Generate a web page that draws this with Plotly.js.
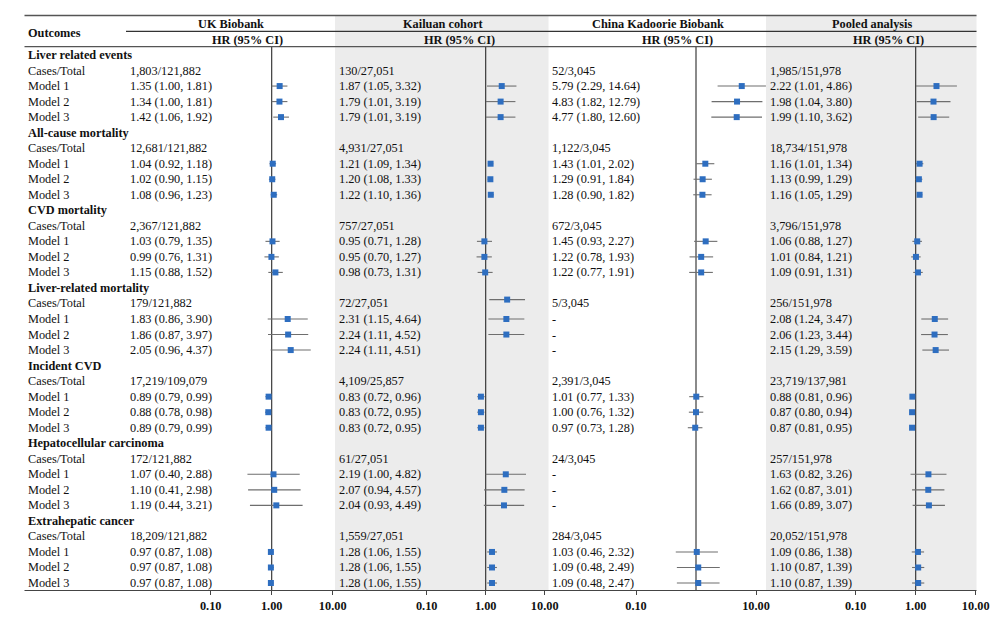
<!DOCTYPE html>
<html><head><meta charset="utf-8">
<script src="https://cdn.plot.ly/plotly-3.0.1.min.js"></script>
<style>html,body{margin:0;padding:0;background:#fff}</style>
</head><body><div id="chart" style="width:1000px;height:618px"></div>
<script>
// ---------------- DATA ----------------
const outcomes = ["Liver related events","All-cause mortality","CVD mortality","Liver-related mortality","Incident CVD","Hepatocellular carcinoma","Extrahepatic cancer"];
const rowLabels = ["Cases/Total","Model 1","Model 2","Model 3"];
const cohorts = ["UK Biobank","Kailuan cohort","China Kadoorie Biobank","Pooled analysis"];
const colHeader = "HR (95% CI)";
const firstHeader = "Outcomes";
const tickValues = [0.1, 1, 10];
const tickLabels = ["0.10", "1.00", "10.00"];
const ckbTickValues = [0.1, 10];
const ckbTickLabels = ["0.10", "10.00"];

const ukCases = ["1,803/121,882","12,681/121,882","2,367/121,882","179/121,882","17,219/109,079","172/121,882","18,209/121,882"];
const ukHR = [1.35,1.34,1.42, 1.04,1.02,1.08, 1.03,0.99,1.15, 1.83,1.86,2.05, 0.89,0.88,0.89, 1.07,1.10,1.19, 0.97,0.97,0.97];
const ukLo = [1.00,1.00,1.06, 0.92,0.90,0.96, 0.79,0.76,0.88, 0.86,0.87,0.96, 0.79,0.78,0.79, 0.40,0.41,0.44, 0.87,0.87,0.87];
const ukHi = [1.81,1.81,1.92, 1.18,1.15,1.23, 1.35,1.31,1.52, 3.90,3.97,4.37, 0.99,0.98,0.99, 2.88,2.98,3.21, 1.08,1.08,1.08];

const kaiCases = ["130/27,051","4,931/27,051","757/27,051","72/27,051","4,109/25,857","61/27,051","1,559/27,051"];
const kaiHR = [1.87,1.79,1.79, 1.21,1.20,1.22, 0.95,0.95,0.98, 2.31,2.24,2.24, 0.83,0.83,0.83, 2.19,2.07,2.04, 1.28,1.28,1.28];
const kaiLo = [1.05,1.01,1.01, 1.09,1.08,1.10, 0.71,0.70,0.73, 1.15,1.11,1.11, 0.72,0.72,0.72, 1.00,0.94,0.93, 1.06,1.06,1.06];
const kaiHi = [3.32,3.19,3.19, 1.34,1.33,1.36, 1.28,1.27,1.31, 4.64,4.52,4.51, 0.96,0.95,0.95, 4.82,4.57,4.49, 1.55,1.55,1.55];
// in the picture the Kailuan liver-related mortality marks sit one row higher than their text
const kaiPlotRowShift = [0,0,0, 0,0,0, 0,0,0, -1.25,-1,-1, 0,0,0, 0,0,0, 0,0,0];

const ckbCases = ["52/3,045","1,122/3,045","672/3,045","5/3,045","2,391/3,045","24/3,045","284/3,045"];
const ckbHR = [5.79,4.83,4.77, 1.43,1.29,1.28, 1.45,1.22,1.22, null,null,null, 1.01,1.00,0.97, null,null,null, 1.03,1.09,1.09];
const ckbLo = [2.29,1.82,1.80, 1.01,0.91,0.90, 0.93,0.78,0.77, null,null,null, 0.77,0.76,0.73, null,null,null, 0.46,0.48,0.48];
const ckbHi = [14.64,12.79,12.60, 2.02,1.84,1.82, 2.27,1.93,1.91, null,null,null, 1.33,1.32,1.28, null,null,null, 2.32,2.49,2.47];

const poolCases = ["1,985/151,978","18,734/151,978","3,796/151,978","256/151,978","23,719/137,981","257/151,978","20,052/151,978"];
const poolHR = [2.22,1.98,1.99, 1.16,1.13,1.16, 1.06,1.01,1.09, 2.08,2.06,2.15, 0.88,0.87,0.87, 1.63,1.62,1.66, 1.09,1.10,1.10];
const poolLo = [1.01,1.04,1.10, 1.01,0.99,1.05, 0.88,0.84,0.91, 1.24,1.23,1.29, 0.81,0.80,0.81, 0.82,0.87,0.89, 0.86,0.87,0.87];
const poolHi = [4.86,3.80,3.62, 1.34,1.29,1.29, 1.27,1.21,1.31, 3.47,3.44,3.59, 0.96,0.94,0.95, 3.26,3.01,3.07, 1.38,1.39,1.39];

// ---------------- LAYOUT CONSTANTS ----------------
const W = 1000, H = 618;
const ROW0 = 55, ROWH = 15.53, AXIS_Y = 590;
const FONT = "Liberation Serif, Times New Roman, serif";
const FS = 12.3;
const TXT = "#111";
const px = x => x / W;
const py = y => 1 - y / H;

const cfg = [
  {name: cohorts[0], cases: ukCases, hr: ukHR, lo: ukLo, hi: ukHi, shift: null, ax: "x",  one: 271.7, dec: 61, textX: 128.5, nameX: 231, hrX: 247, tv: tickValues, tt: tickLabels},
  {name: cohorts[1], cases: kaiCases, hr: kaiHR, lo: kaiLo, hi: kaiHi, shift: kaiPlotRowShift, ax: "x2", one: 485.7, dec: 59, textX: 338, nameX: 442.5, hrX: 459, tv: tickValues, tt: tickLabels},
  {name: cohorts[2], cases: ckbCases, hr: ckbHR, lo: ckbLo, hi: ckbHi, shift: null, ax: "x3", one: 696, dec: 60, textX: 550.5, nameX: 658, hrX: 677.5, tv: ckbTickValues, tt: ckbTickLabels},
  {name: cohorts[3], cases: poolCases, hr: poolHR, lo: poolLo, hi: poolHi, shift: null, ax: "x4", one: 915.7, dec: 60, textX: 769, nameX: 872, hrX: 888, tv: tickValues, tt: tickLabels}
];

const fmt = v => v.toFixed(2);
const annotations = [];
function addText(text, x, y, yref, opts) {
  annotations.push(Object.assign({
    text: text, x: x, y: y, xref: "paper", yref: yref,
    xanchor: "left", yanchor: "middle", showarrow: false, borderpad: 0,
    font: {family: FONT, size: FS, color: TXT}
  }, opts || {}));
}
const bold = {family: FONT, size: FS, color: TXT, weight: "bold"};

// headers
addText(firstHeader, px(26.5), py(32.5), "paper", {font: bold});
cfg.forEach(c => {
  addText(c.name, px(c.nameX), py(23.5), "paper", {xanchor: "center", font: bold});
  addText(colHeader, px(c.hrX), py(40), "paper", {xanchor: "center", font: bold});
});

// body rows
outcomes.forEach((o, k) => {
  addText(o, px(26.5), 5 * k, "y", {font: bold});
  rowLabels.forEach((r, j) => addText(r, px(26.5), 5 * k + 1 + j, "y"));
  cfg.forEach(c => {
    addText(c.cases[k], px(c.textX), 5 * k + 1, "y");
    for (let m = 0; m < 3; m++) {
      const i = 3 * k + m;
      const t = c.hr[i] == null ? "-" : fmt(c.hr[i]) + " (" + fmt(c.lo[i]) + ", " + fmt(c.hi[i]) + ")";
      addText(t, px(c.textX), 5 * k + 2 + m, "y");
    }
  });
});

// traces
const traces = [];
cfg.forEach(c => {
  const lx = [], ly = [], mx = [], my = [];
  c.hr.forEach((v, i) => {
    if (v == null) return;
    const k = Math.floor(i / 3), m = i % 3;
    const row = 5 * k + 2 + m + (c.shift ? c.shift[i] : 0);
    lx.push(c.lo[i], c.hi[i], null); ly.push(row, row, null);
    mx.push(v); my.push(row);
  });
  traces.push({type: "scatter", mode: "lines", x: lx, y: ly, xaxis: c.ax, yaxis: "y",
    line: {color: "#6e6e6e", width: 1.1}, hoverinfo: "skip", showlegend: false});
  traces.push({type: "scatter", mode: "markers", x: mx, y: my, xaxis: c.ax, yaxis: "y",
    marker: {symbol: "square", size: 6, color: "#2e6ec0"}, showlegend: false});
});

// shapes
const shapes = [
  {type: "rect", xref: "paper", yref: "paper", x0: px(335), x1: px(548.5), y0: py(15), y1: py(AXIS_Y), fillcolor: "#ececec", line: {width: 0}, layer: "below"},
  {type: "rect", xref: "paper", yref: "paper", x0: px(766), x1: px(976.5), y0: py(15), y1: py(AXIS_Y), fillcolor: "#ececec", line: {width: 0}, layer: "below"},
  {type: "line", xref: "paper", yref: "paper", x0: px(24.5), x1: px(976.5), y0: py(15.5), y1: py(15.5), line: {color: "#555", width: 1.3}},
  {type: "line", xref: "paper", yref: "paper", x0: px(126), x1: px(976.5), y0: py(31.3), y1: py(31.3), line: {color: "#333", width: 1.2}},
  {type: "line", xref: "paper", yref: "paper", x0: px(24.5), x1: px(976.5), y0: py(46.7), y1: py(46.7), line: {color: "#555", width: 1.3}},
  {type: "line", xref: "paper", yref: "paper", x0: px(24.5), x1: px(976.5), y0: py(AXIS_Y + 0.5), y1: py(AXIS_Y + 0.5), line: {color: "#444", width: 1.2}}
];
cfg.forEach(c => {
  shapes.push({type: "line", xref: c.ax, yref: "paper", x0: 1, x1: 1, y0: py(47), y1: py(AXIS_Y), line: {color: "#2a2a2a", width: 1.1}, layer: "below"});
});

const layout = {
  width: W, height: H, margin: {l: 0, r: 0, t: 0, b: 0},
  paper_bgcolor: "#fff", plot_bgcolor: "rgba(0,0,0,0)",
  showlegend: false, hovermode: false,
  yaxis: {domain: [1 - AXIS_Y / H, 1], range: [(AXIS_Y - ROW0) / ROWH, -ROW0 / ROWH],
    showgrid: false, zeroline: false, showline: false, showticklabels: false, ticks: "", fixedrange: true},
  annotations: annotations, shapes: shapes
};
cfg.forEach((c, idx) => {
  const key = idx === 0 ? "xaxis" : "xaxis" + (idx + 1);
  const ax = {
    type: "log", domain: [0, 1], anchor: "y",
    range: [(0 - c.one) / c.dec, (W - c.one) / c.dec],
    tickmode: "array", tickvals: c.tv, ticktext: c.tt,
    ticks: "outside", ticklen: 4, tickwidth: 1, tickcolor: "#444",
    tickfont: {family: FONT, size: FS, color: TXT, weight: "bold"},
    showgrid: false, zeroline: false, showline: false, fixedrange: true
  };
  if (idx > 0) ax.overlaying = "x";
  layout[key] = ax;
});

Plotly.newPlot("chart", traces, layout, {staticPlot: true, displayModeBar: false});
</script>
</body></html>
